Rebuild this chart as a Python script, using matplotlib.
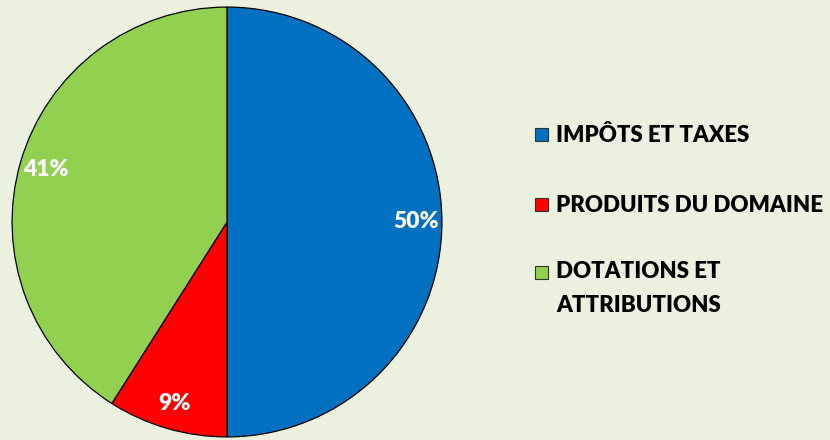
import matplotlib.pyplot as plt
from matplotlib.patches import Rectangle

labels = ["IMPÔTS ET TAXES", "PRODUITS DU DOMAINE", "DOTATIONS ET\nATTRIBUTIONS"]
values = [50, 9, 41]
colors = ["#0070C0", "#FF0000", "#92D050"]
bg = "#EBF1DE"

plt.rcParams['font.family'] = ['Lato', 'DejaVu Sans']

W, H = 830, 440
fig = plt.figure(figsize=(W / 100, H / 100), dpi=100, facecolor=bg)

# pie centre ~ (227, 222) px, radius ~216 px
r = 216
cx, cy = 227, 222
ax = fig.add_axes([(cx - r) / W, (H - cy - r) / H, 2 * r / W, 2 * r / H])
ax.set_facecolor(bg)

wedges, _, autotexts = ax.pie(
    values, colors=colors, startangle=90, counterclock=False,
    autopct='%d%%', pctdistance=0.88, radius=1.0,
    wedgeprops=dict(edgecolor='black', linewidth=0.9),
    textprops=dict(color='white', fontsize=16.5, fontweight='heavy'))
ax.set_xlim(-1.005, 1.005)
ax.set_ylim(-1.005, 1.005)
ax.set_aspect('equal')
ax.axis('off')

# legend drawn by hand
leg_y = [135, 205, 272]
line_gap = 33
for lab, col, y in zip(labels, colors, leg_y):
    fig.patches.append(Rectangle((535 / W, (H - y - 6.5) / H), 13 / W, 13 / H,
                                 transform=fig.transFigure, facecolor=col,
                                 edgecolor='#333333', linewidth=0.8))
    for i, part in enumerate(lab.split('\n')):
        fig.text(556 / W, (H - y - i * line_gap) / H, part, ha='left', va='center',
                 fontsize=16, fontweight='heavy', color='black')

fig.savefig('out.png', dpi=100, facecolor=bg)
